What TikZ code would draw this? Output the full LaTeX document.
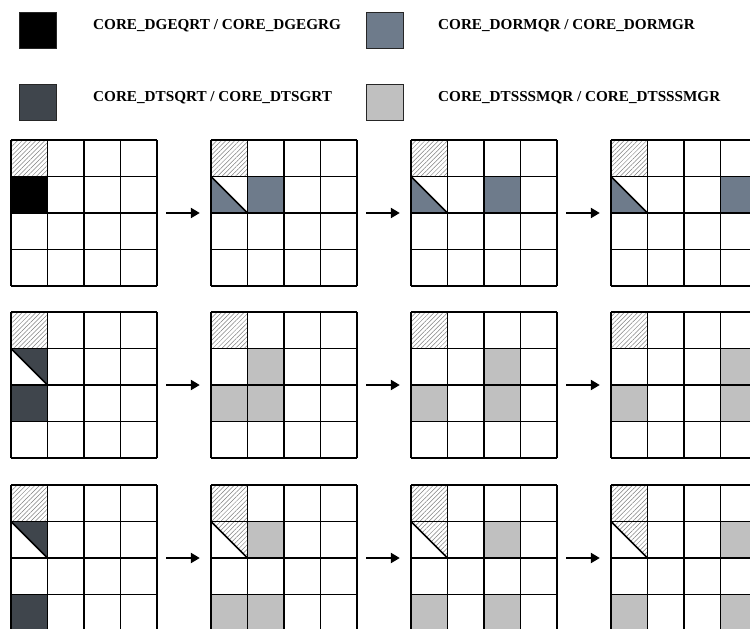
\documentclass[tikz,border=0pt]{standalone}
\usepackage{fontspec}
\setmainfont{Liberation Serif}
\usetikzlibrary{patterns.meta,arrows.meta}
\definecolor{slatec}{RGB}{110,123,139}
\definecolor{darkc}{RGB}{63,69,76}
\definecolor{lightc}{RGB}{192,192,192}
\tikzset{
  gl/.style={line width=1.7pt,black},
  gridbox/.style={rectangle,minimum size=146pt,inner sep=0pt},
  arr/.style={line width=2.2pt,-{Triangle[length=9pt,width=10pt]}},
  legsq/.style={rectangle,draw=black!85,line width=1.4pt,minimum width=37pt,minimum height=36pt,inner sep=0pt},
  legtxt/.style={anchor=west,inner sep=0pt,font=\fontsize{15.2}{18}\selectfont\bfseries},
  hatch/.style={pattern={Lines[angle=45,distance=3.2pt,line width=0.5pt]},pattern color=black!50},
}
\def\c{36.5}
\newcommand\cf[3]{\fill[#3] ({#2*\c},{#1*\c}) rectangle ++(\c,\c);}
\newcommand\lowtri[3]{\fill[#3] ({#2*\c},{#1*\c}) -- ({#2*\c},{(#1+1)*\c}) -- ({(#2+1)*\c},{(#1+1)*\c}) -- cycle;
  \draw[gl] ({#2*\c},{#1*\c}) -- ({(#2+1)*\c},{(#1+1)*\c});}
\newcommand\uptri[3]{\fill[#3] ({#2*\c},{#1*\c}) -- ({(#2+1)*\c},{#1*\c}) -- ({(#2+1)*\c},{(#1+1)*\c}) -- cycle;
  \draw[gl] ({#2*\c},{#1*\c}) -- ({(#2+1)*\c},{(#1+1)*\c});}
\newcommand\gridlines{\path[hatch] (0,0) rectangle (\c,\c);
  \foreach \i in {0,...,4} {\draw[gl] ({\i*\c},0) -- ({\i*\c},{4*\c}); \draw[gl] (0,{\i*\c}) -- ({4*\c},{\i*\c});}}
\begin{document}
\begin{tikzpicture}[x=1pt,y=-1pt]
\useasboundingbox[fill=white] (0,0) rectangle (750,629);
% legend
\node[legsq,fill=black] (l1) at (38,30.5) {};
\node[legsq,fill=darkc] (l2) at (38,102.5) {};
\node[legsq,fill=slatec] (l3) at (385,30.5) {};
\node[legsq,fill=lightc] (l4) at (385,102.5) {};
\node[legtxt] (t1) at (93,25.5) {CORE\_DGEQRT / CORE\_DGEGRG};
\node[legtxt] (t2) at (93,98) {CORE\_DTSQRT / CORE\_DTSGRT};
\node[legtxt] (t3) at (438,25.5) {CORE\_DORMQR / CORE\_DORMGR};
\node[legtxt] (t4) at (438,98) {CORE\_DTSSSMQR / CORE\_DTSSSMGR};
% row 1
\begin{scope}[shift={(11,140)}]
 \node[gridbox] (g11) at (73,73) {};
 \cf{1}{0}{black} \gridlines
\end{scope}
\begin{scope}[shift={(211,140)}]
 \node[gridbox] (g12) at (73,73) {};
 \cf{1}{1}{slatec} \lowtri{1}{0}{slatec} \gridlines
\end{scope}
\begin{scope}[shift={(411,140)}]
 \node[gridbox] (g13) at (73,73) {};
 \cf{1}{2}{slatec} \lowtri{1}{0}{slatec} \gridlines
\end{scope}
\begin{scope}[shift={(611,140)}]
 \node[gridbox] (g14) at (73,73) {};
 \cf{1}{3}{slatec} \lowtri{1}{0}{slatec} \gridlines
\end{scope}
% row 2
\begin{scope}[shift={(11,312)}]
 \node[gridbox] (g21) at (73,73) {};
 \cf{2}{0}{darkc} \uptri{1}{0}{darkc} \gridlines
\end{scope}
\begin{scope}[shift={(211,312)}]
 \node[gridbox] (g22) at (73,73) {};
 \cf{1}{1}{lightc} \cf{2}{0}{lightc} \cf{2}{1}{lightc} \gridlines
\end{scope}
\begin{scope}[shift={(411,312)}]
 \node[gridbox] (g23) at (73,73) {};
 \cf{1}{2}{lightc} \cf{2}{0}{lightc} \cf{2}{2}{lightc} \gridlines
\end{scope}
\begin{scope}[shift={(611,312)}]
 \node[gridbox] (g24) at (73,73) {};
 \cf{1}{3}{lightc} \cf{2}{0}{lightc} \cf{2}{3}{lightc} \gridlines
\end{scope}
% row 3
\begin{scope}[shift={(11,485)}]
 \node[gridbox] (g31) at (73,73) {};
 \cf{3}{0}{darkc} \uptri{1}{0}{darkc} \gridlines
\end{scope}
\begin{scope}[shift={(211,485)}]
 \node[gridbox] (g32) at (73,73) {};
 \cf{1}{1}{lightc} \cf{3}{0}{lightc} \cf{3}{1}{lightc} \uptri{1}{0}{hatch} \gridlines
\end{scope}
\begin{scope}[shift={(411,485)}]
 \node[gridbox] (g33) at (73,73) {};
 \cf{1}{2}{lightc} \cf{3}{0}{lightc} \cf{3}{2}{lightc} \uptri{1}{0}{hatch} \gridlines
\end{scope}
\begin{scope}[shift={(611,485)}]
 \node[gridbox] (g34) at (73,73) {};
 \cf{1}{3}{lightc} \cf{3}{0}{lightc} \cf{3}{3}{lightc} \uptri{1}{0}{hatch} \gridlines
\end{scope}
% arrows
\foreach \r in {1,2,3} {
  \draw[arr] ([xshift=9pt]g\r1.east) -- ([xshift=-11pt]g\r2.west);
  \draw[arr] ([xshift=9pt]g\r2.east) -- ([xshift=-11pt]g\r3.west);
  \draw[arr] ([xshift=9pt]g\r3.east) -- ([xshift=-11pt]g\r4.west);
}
\end{tikzpicture}
\end{document}
